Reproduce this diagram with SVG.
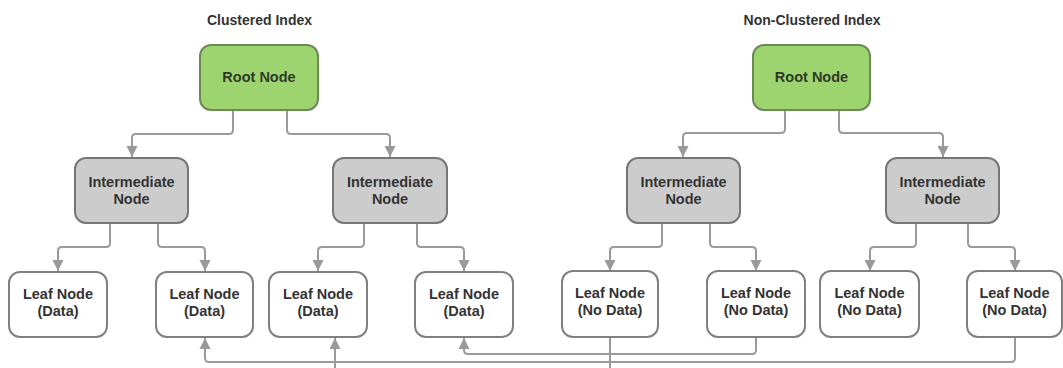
<svg xmlns="http://www.w3.org/2000/svg" width="1063" height="368" viewBox="0 0 1063 368">
  <style>
    .title { font-family: "Liberation Sans", Arial, sans-serif; font-size: 14px; font-weight: bold; fill: #333; text-anchor: middle; }
    .label { font-family: "Liberation Sans", Arial, sans-serif; font-size: 14.5px; font-weight: bold; fill: #333; text-anchor: middle; }
    .root rect { fill: #9ed470; stroke: #6b8a55; stroke-width: 2; }
    .root text { fill: #2f3a28; }
    .inter rect { fill: #cccccc; stroke: #777; stroke-width: 2; }
    .leaf rect { fill: #ffffff; stroke: #808080; stroke-width: 2; }
    .conn path { fill: none; stroke: #9a9a9a; stroke-width: 2; marker-end: url(#arrow); }
  </style>
  <defs>
    <marker id="arrow" viewBox="0 0 10 10" refX="10" refY="5" markerWidth="11" markerHeight="12" markerUnits="userSpaceOnUse" orient="auto">
      <path d="M0,0 L10,5 L0,10 z" fill="#9a9a9a"/>
    </marker>
  </defs>
  <rect width="1063" height="368" fill="#ffffff"/>

  <!-- headings -->
  <text class="title" x="259.5" y="25">Clustered Index</text>
  <text class="title" x="812" y="25">Non-Clustered Index</text>

  <!-- connectors -->
  <g id="connectors" class="conn">
    <!-- clustered: root to intermediates -->
    <path d="M233 110 V130 Q233 134 229 134 H136 Q132 134 132 138 V157"/>
    <path d="M287 110 V130 Q287 134 291 134 H386 Q390 134 390 138 V157"/>
    <!-- clustered: intermediates to leaves -->
    <path d="M110 223 V243 Q110 247 106 247 H62 Q58 247 58 251 V271"/>
    <path d="M158 223 V243 Q158 247 162 247 H201 Q205 247 205 251 V271"/>
    <path d="M364 223 V243 Q364 247 360 247 H322 Q318 247 318 251 V271"/>
    <path d="M417 223 V243 Q417 247 421 247 H460 Q464 247 464 251 V271"/>
    <!-- non-clustered: root to intermediates -->
    <path d="M785 110 V129 Q785 133 781 133 H687 Q683 133 683 137 V157"/>
    <path d="M839 110 V129 Q839 133 843 133 H939 Q943 133 943 137 V157"/>
    <!-- non-clustered: intermediates to leaves -->
    <path d="M662 223 V243 Q662 247 658 247 H614 Q610 247 610 251 V271"/>
    <path d="M710 223 V243 Q710 247 714 247 H752 Q756 247 756 251 V271"/>
    <path d="M916 223 V243 Q916 247 912 247 H874 Q870 247 870 251 V271"/>
    <path d="M968 223 V243 Q968 247 972 247 H1011 Q1015 247 1015 251 V271"/>
    <!-- non-clustered leaves pointing back to data leaves -->
    <path d="M756 338 V350 Q756 354 752 354 H468 Q464 354 464 350 V338"/>
    <path d="M1015 338 V358 Q1015 362 1011 362 H209 Q205 362 205 358 V338"/>
    <path d="M610 338 V376 H335 V338"/>
  </g>

  <!-- clustered index tree -->
  <g id="c-root" class="root">
    <rect x="200" y="45" width="118" height="65" rx="11"/>
    <text class="label" x="259" y="82">Root Node</text>
  </g>
  <g id="c-inter-1" class="inter">
    <rect x="75" y="158" width="113" height="65" rx="11"/>
    <text class="label" x="131.5" y="187">Intermediate</text>
    <text class="label" x="131.5" y="204">Node</text>
  </g>
  <g id="c-inter-2" class="inter">
    <rect x="333" y="158" width="114" height="65" rx="11"/>
    <text class="label" x="390" y="187">Intermediate</text>
    <text class="label" x="390" y="204">Node</text>
  </g>
  <g id="c-leaf-1" class="leaf">
    <rect x="9" y="272" width="98" height="65" rx="11"/>
    <text class="label" x="58" y="299">Leaf Node</text>
    <text class="label" x="58" y="316">(Data)</text>
  </g>
  <g id="c-leaf-2" class="leaf">
    <rect x="156" y="272" width="97" height="65" rx="11"/>
    <text class="label" x="204.5" y="299">Leaf Node</text>
    <text class="label" x="204.5" y="316">(Data)</text>
  </g>
  <g id="c-leaf-3" class="leaf">
    <rect x="269" y="272" width="98" height="65" rx="11"/>
    <text class="label" x="318" y="299">Leaf Node</text>
    <text class="label" x="318" y="316">(Data)</text>
  </g>
  <g id="c-leaf-4" class="leaf">
    <rect x="415" y="272" width="98" height="65" rx="11"/>
    <text class="label" x="464" y="299">Leaf Node</text>
    <text class="label" x="464" y="316">(Data)</text>
  </g>

  <!-- non-clustered index tree -->
  <g id="n-root" class="root">
    <rect x="753" y="45" width="117" height="65" rx="11"/>
    <text class="label" x="811.5" y="82">Root Node</text>
  </g>
  <g id="n-inter-1" class="inter">
    <rect x="627" y="158" width="113" height="65" rx="11"/>
    <text class="label" x="683.5" y="187">Intermediate</text>
    <text class="label" x="683.5" y="204">Node</text>
  </g>
  <g id="n-inter-2" class="inter">
    <rect x="886" y="158" width="113" height="65" rx="11"/>
    <text class="label" x="942.5" y="187">Intermediate</text>
    <text class="label" x="942.5" y="204">Node</text>
  </g>
  <g id="n-leaf-1" class="leaf">
    <rect x="562" y="271" width="96" height="66" rx="11"/>
    <text class="label" x="610" y="298">Leaf Node</text>
    <text class="label" x="610" y="315">(No Data)</text>
  </g>
  <g id="n-leaf-2" class="leaf">
    <rect x="707" y="271" width="98" height="66" rx="11"/>
    <text class="label" x="756" y="298">Leaf Node</text>
    <text class="label" x="756" y="315">(No Data)</text>
  </g>
  <g id="n-leaf-3" class="leaf">
    <rect x="820" y="271" width="99" height="66" rx="11"/>
    <text class="label" x="869.5" y="298">Leaf Node</text>
    <text class="label" x="869.5" y="315">(No Data)</text>
  </g>
  <g id="n-leaf-4" class="leaf">
    <rect x="967" y="271" width="95" height="66" rx="11"/>
    <text class="label" x="1014.5" y="298">Leaf Node</text>
    <text class="label" x="1014.5" y="315">(No Data)</text>
  </g>
</svg>
